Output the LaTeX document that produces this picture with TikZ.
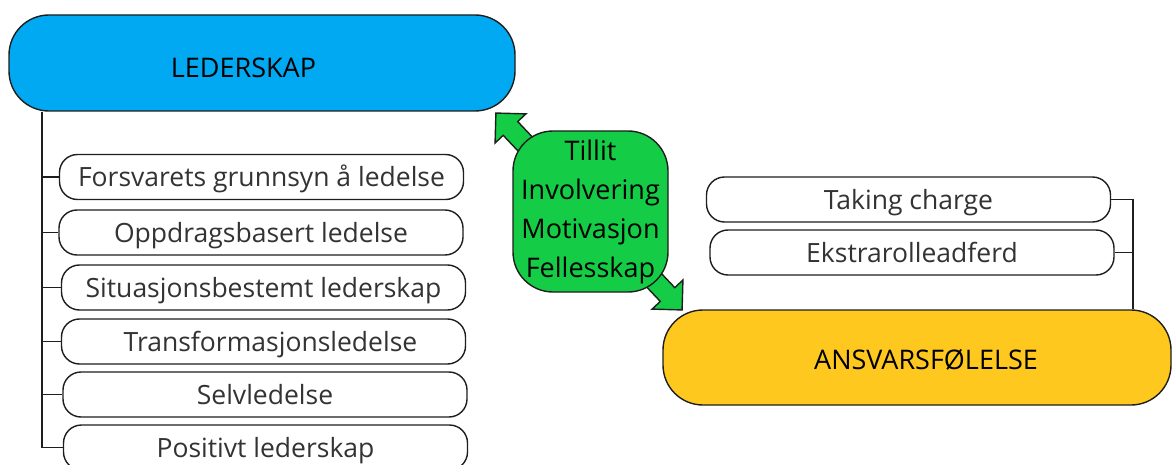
\documentclass[tikz,border=0pt]{standalone}
\usepackage{fontspec}
\setmainfont{Open Sans}
\definecolor{ledblue}{HTML}{00A9F1}
\definecolor{ansyellow}{HTML}{FFC81E}
\definecolor{bondgreen}{HTML}{14CC46}
\definecolor{linegray}{HTML}{1E1E1E}
\definecolor{itemtext}{HTML}{333333}
\begin{document}
\begin{tikzpicture}[x=1pt,y=-1pt,
  conn/.style={draw=linegray, line width=1.4pt},
  itembox/.style={draw=linegray, line width=1.4pt, fill=white,
    rounded corners=18pt, minimum width=404pt, minimum height=45pt,
    inner sep=0pt, text=itemtext, font=\fontsize{26.5}{30}\selectfont,
    text height=19pt, text depth=0pt},
  hubbox/.style={draw=linegray, line width=1.4pt, rounded corners=40pt,
    minimum height=96pt, inner sep=0pt},
  hubtext/.style={font=\fontsize{27}{30}\selectfont, text=black,
    inner sep=0pt, text height=19pt, text depth=0pt}]
\useasboundingbox (0,0) rectangle (1172,465);

% left hub and its branches
\node[hubbox, fill=ledblue, minimum width=506pt] (lead) at (262,63) {};
\node[hubtext] (leadtext) at (243.5,68) {LEDERSKAP};
\coordinate (ltrunk) at (42,111);

\node[itembox] (i1) at (261.5,177)   {Forsvarets grunnsyn å ledelse};
\node[itembox] (i2) at (261,232.5)   {Oppdragsbasert ledelse};
\node[itembox] (i3) at (263.5,287.5) {Situasjonsbestemt lederskap};
\node[itembox] (i4) at (263.5,341.5) {\hspace*{14pt}Transformasjonsledelse};
\node[itembox] (i5) at (265,394.5)   {Selvledelse};
\node[itembox] (i6) at (265.5,447.5) {Positivt lederskap};

\draw[conn] (lead.south -| ltrunk) -- (i6.west -| ltrunk) -- (i6.west);
\foreach \n in {i1,i2,i3,i4,i5}
  \draw[conn] (\n.west -| ltrunk) -- (\n.west);

% right hub and its branches
\node[hubbox, fill=ansyellow, minimum width=508pt, minimum height=95pt] (ans) at (917,357.5) {};
\node[hubtext] (anstext) at (926,360) {ANSVARSFØLELSE};
\coordinate (rtrunk) at (1133,200);

\node[itembox] (tc) at (908.5,199.5) {Taking charge};
\node[itembox] (ek) at (912,252.5)   {Ekstrarolleadferd};

\draw[conn] (tc.east) -- (tc.east -| rtrunk) -- (ans.north -| rtrunk);
\draw[conn] (ek.east) -- (ek.east -| rtrunk);

% two-way block arrow between the hubs
\begin{scope}[shift={(589,211.5)}, rotate=-46.6]
  \draw[linegray, line width=1.4pt, fill=bondgreen, line join=miter]
    (-135.5,0) -- (-114.3,21.2) -- (-114.3,10) -- (114.3,10) -- (114.3,21.2)
    -- (135.5,0) -- (114.3,-21.2) -- (114.3,-10) -- (-114.3,-10)
    -- (-114.3,-21.2) -- cycle;
\end{scope}

% bond values
\node[draw=linegray, line width=1.4pt, fill=bondgreen, rounded corners=40pt,
  minimum width=155pt, minimum height=161pt, inner sep=0pt, align=center,
  font=\fontsize{27}{39}\selectfont] (bond) at (590.5,211.5)
  {Tillit\\Involvering\\Motivasjon\\Fellesskap};
\end{tikzpicture}
\end{document}
